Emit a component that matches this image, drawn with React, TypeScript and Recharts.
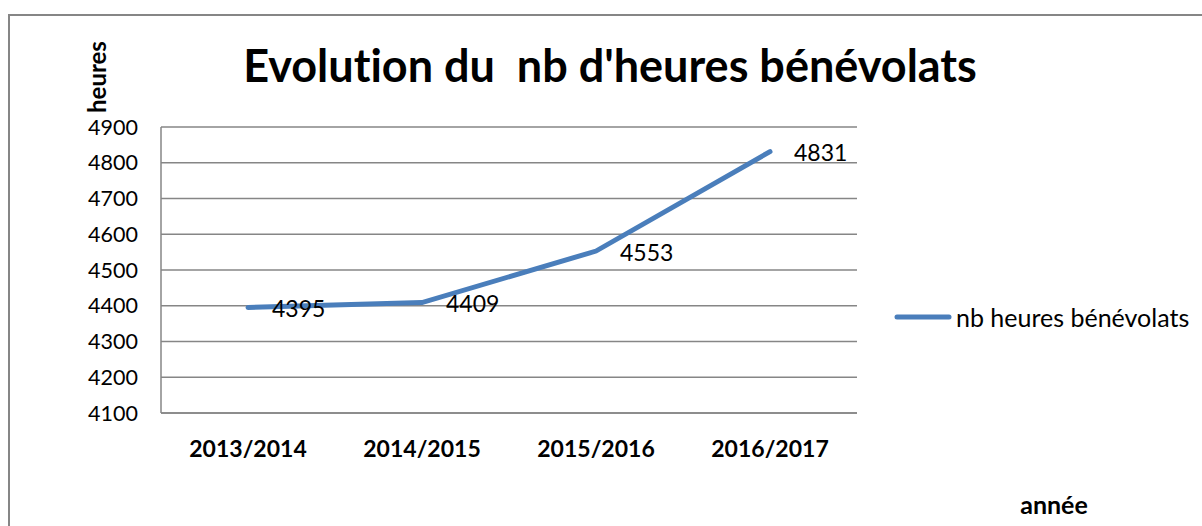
import { LineChart, Line, XAxis, YAxis, CartesianGrid, Legend, LabelList, Customized } from 'recharts'

// values
const seasons = ['2013/2014', '2014/2015', '2015/2016', '2016/2017']
const hours = [4395, 4409, 4553, 4831]
const yTicks = [4100, 4200, 4300, 4400, 4500, 4600, 4700, 4800, 4900]

const data = seasons.map((season, i) => ({ season, hours: hours[i] }))

const FONT = 'Lato, "Open Sans", sans-serif'
const GRID = '#868686'
const BLUE = '#4A7EBB'

function PointLabel(props: any) {
  const { x, y, value } = props
  return (
    <text x={x + 24} y={y + 4} fontSize={23} fontFamily={FONT} fill="#000" dominantBaseline="middle">
      {value}
    </text>
  )
}

function LegendBox() {
  return (
    <div style={{ display: 'flex', alignItems: 'center', fontFamily: FONT, fontSize: 25, color: '#000', whiteSpace: 'nowrap' }}>
      <svg width={58} height={8} style={{ marginRight: 4 }}>
        <line x1={3} y1={4} x2={55} y2={4} stroke={BLUE} strokeWidth={5} strokeLinecap="round" />
      </svg>
      <span>nb heures bénévolats</span>
    </div>
  )
}

// chart frame, title and axis titles
function Decorations() {
  return (
    <g>
      <rect x={9} y={15} width={1400} height={800} fill="none" stroke={GRID} strokeWidth={2} />
      <text
        x={610}
        y={70}
        textAnchor="middle"
        dominantBaseline="middle"
        fontFamily={FONT}
        fontWeight={700}
        fontSize={45}
        fill="#000"
        style={{ whiteSpace: 'pre', fontVariantLigatures: 'none' }}
      >
        Evolution du  nb d'heures bénévolats
      </text>
      <text
        x={100}
        y={77}
        transform="rotate(-90 100 77)"
        textAnchor="middle"
        dominantBaseline="middle"
        fontFamily={FONT}
        fontWeight={700}
        fontSize={24}
        fill="#000"
      >
        heures
      </text>
      <text x={1054} y={508} textAnchor="middle" dominantBaseline="middle" fontFamily={FONT} fontWeight={700} fontSize={25} fill="#000">
        année
      </text>
    </g>
  )
}

export default function App() {
  return (
    <div style={{ position: 'absolute', left: 0, top: 0, width: 1202, height: 526, background: '#fff' }}>
      <LineChart width={1202} height={526} data={data} margin={{ top: 127, right: 345, left: 101, bottom: 73 }}>
        <Customized component={Decorations} />
        <CartesianGrid vertical={false} stroke={GRID} strokeWidth={1.5} />
        <XAxis
          dataKey="season"
          height={40}
          padding={{ left: 87, right: 87 }}
          stroke={GRID}
          strokeWidth={1.5}
          tickLine={false}
          tickMargin={22}
          tick={{ fill: '#000', fontSize: 23, fontWeight: 700, fontFamily: FONT }}
        />
        <YAxis
          width={60}
          domain={[4100, 4900]}
          ticks={yTicks}
          interval={0}
          stroke={GRID}
          strokeWidth={1.5}
          tickLine={false}
          tickSize={0}
          tickMargin={23}
          tick={{ fill: '#000', fontSize: 21.5, fontFamily: FONT }}
        />
        <Legend
          layout="vertical"
          align="center"
          verticalAlign="middle"
          content={<LegendBox />}
          wrapperStyle={{ left: 894, top: 302, width: 300 }}
        />
        <Line
          type="linear"
          dataKey="hours"
          name="nb heures bénévolats"
          stroke={BLUE}
          strokeWidth={5}
          strokeLinecap="round"
          dot={false}
          activeDot={false}
          isAnimationActive={false}
        >
          <LabelList dataKey="hours" content={<PointLabel />} />
        </Line>
      </LineChart>
    </div>
  )
}
